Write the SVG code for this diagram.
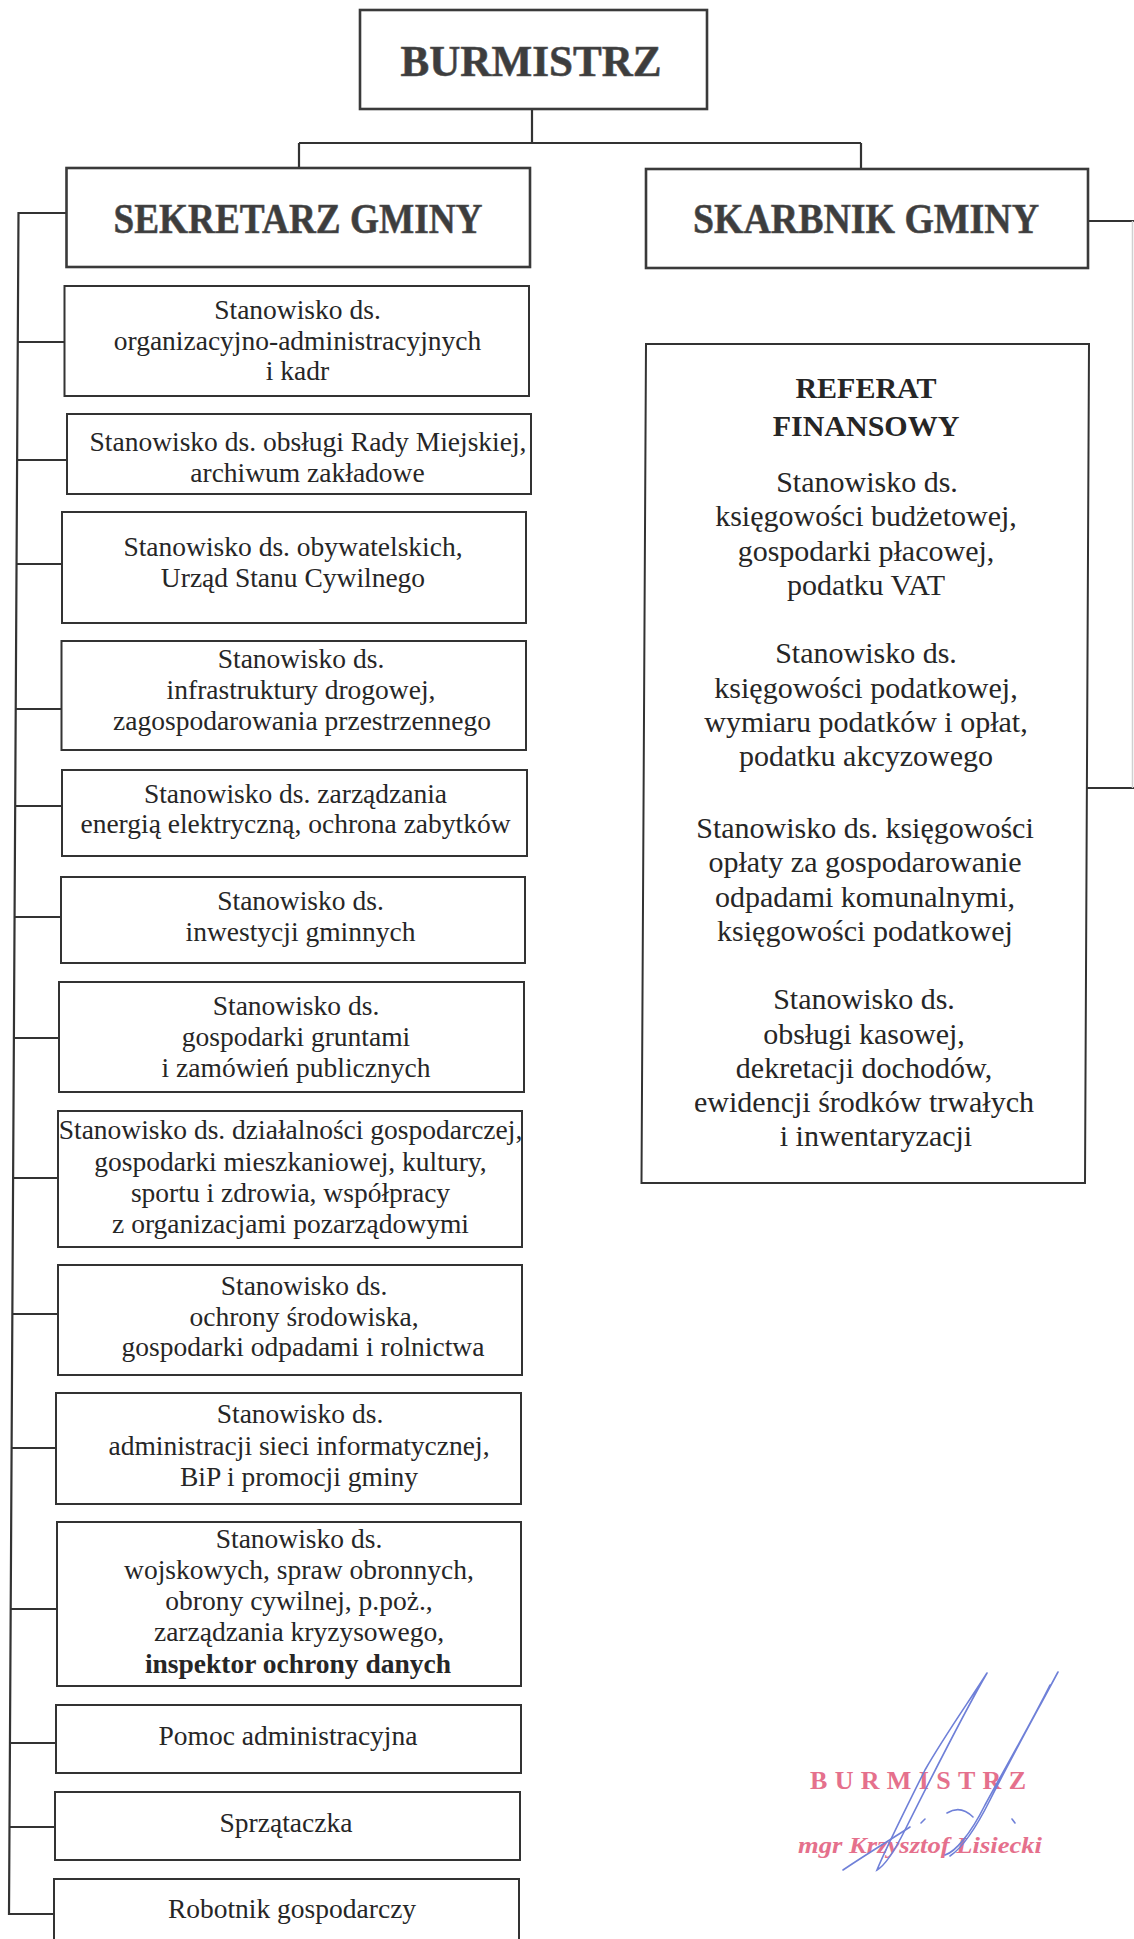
<svg xmlns="http://www.w3.org/2000/svg" width="1134" height="1939" viewBox="0 0 1134 1939">
<style>
.bg{fill:#ffffff}
.box{fill:#ffffff;stroke:#333333;stroke-width:2}
.tbox{fill:#ffffff;stroke:#3a3a3a;stroke-width:2.6}
.con{fill:none;stroke:#333333;stroke-width:2.2}
.t{font-family:"Liberation Serif","Times New Roman",serif;font-size:27.5px;fill:#262626;text-anchor:middle}
.r{font-family:"Liberation Serif","Times New Roman",serif;font-size:30px;fill:#262626;text-anchor:middle}
.b{font-weight:bold}
.title{font-family:"Liberation Serif","Times New Roman",serif;font-weight:bold;fill:#3d3d3d;text-anchor:middle;stroke:#555;stroke-width:0.6}
.stamp{font-family:"Liberation Serif","Times New Roman",serif;fill:#e5708c}
.sig{fill:none;stroke:#6f80d8;stroke-width:1.6;stroke-linecap:round}
</style>
<rect class="bg" x="0" y="0" width="1134" height="1939"/>

<g id="connectors">
  <path class="con" d="M532,109 V143 M299,143 H861 M299,143 V168 M861,143 V169"/>
  <path class="con" d="M66.5,213 H18.5 L9,1914 H54"/>
  <path class="con" d="M17.8,342 H64.5 M17.1,460 H67 M16.5,564 H62 M15.7,709 H61.5 M15.2,806 H62 M14.6,917 H61 M13.9,1038 H59 M13.1,1178 H58 M12.3,1314 H58 M11.6,1448 H56 M10.7,1609 H57 M9.9,1743 H56 M9.5,1827 H55"/>
  <path class="con" d="M1088,221 H1134 M1087,788 H1134"/>
  <path fill="none" stroke="#d0d0d0" stroke-width="1.5" d="M1132.5,221 V788"/>
</g>

<g id="burmistrz">
  <rect class="tbox" x="360" y="10" width="347" height="99"/>
  <text class="title" x="531" y="76" font-size="44" textLength="261" lengthAdjust="spacingAndGlyphs">BURMISTRZ</text>
</g>

<g id="sekretarz">
  <rect class="tbox" x="66.5" y="168" width="463.5" height="99"/>
  <text class="title" x="298" y="233" font-size="42" textLength="369" lengthAdjust="spacingAndGlyphs">SEKRETARZ GMINY</text>
</g>

<g id="skarbnik">
  <rect class="tbox" x="646" y="169" width="442" height="99"/>
  <text class="title" x="866" y="233" font-size="42" textLength="346" lengthAdjust="spacingAndGlyphs">SKARBNIK GMINY</text>
</g>

<g id="referat">
  <polygon class="box" points="646,344 1089,344 1085,1183 641.5,1183"/>
  <text class="r b" x="866" y="398" font-size="28.5">REFERAT</text>
  <text class="r b" x="866" y="436" font-size="28.5">FINANSOWY</text>
  <text class="r" x="867" y="492">Stanowisko ds.</text>
  <text class="r" x="866" y="526">księgowości budżetowej,</text>
  <text class="r" x="866" y="561">gospodarki płacowej,</text>
  <text class="r" x="866" y="595">podatku VAT</text>
  <text class="r" x="866" y="663">Stanowisko ds.</text>
  <text class="r" x="866" y="698">księgowości podatkowej,</text>
  <text class="r" x="866" y="732">wymiaru podatków i opłat,</text>
  <text class="r" x="866" y="766">podatku akcyzowego</text>
  <text class="r" x="865" y="838">Stanowisko ds. księgowości</text>
  <text class="r" x="865" y="872">opłaty za gospodarowanie</text>
  <text class="r" x="865" y="907">odpadami komunalnymi,</text>
  <text class="r" x="865" y="941">księgowości podatkowej</text>
  <text class="r" x="864" y="1009">Stanowisko ds.</text>
  <text class="r" x="864" y="1044">obsługi kasowej,</text>
  <text class="r" x="864" y="1078">dekretacji dochodów,</text>
  <text class="r" x="864" y="1112">ewidencji środków trwałych</text>
  <text class="r" x="876" y="1146">i inwentaryzacji</text>
</g>

<g id="s1">
  <rect class="box" x="64.5" y="286" width="464.5" height="110"/>
  <text class="t" x="297.5" y="319">Stanowisko ds.</text>
  <text class="t" x="297.5" y="350">organizacyjno-administracyjnych</text>
  <text class="t" x="297.5" y="380">i kadr</text>
</g>
<g id="s2">
  <rect class="box" x="67" y="414" width="464" height="80"/>
  <text class="t" x="308" y="451">Stanowisko ds. obsługi Rady Miejskiej,</text>
  <text class="t" x="307.5" y="482">archiwum zakładowe</text>
</g>
<g id="s3">
  <rect class="box" x="62" y="512" width="464" height="111"/>
  <text class="t" x="293" y="556">Stanowisko ds. obywatelskich,</text>
  <text class="t" x="293" y="587">Urząd Stanu Cywilnego</text>
</g>
<g id="s4">
  <rect class="box" x="61.5" y="641" width="464.5" height="109"/>
  <text class="t" x="301" y="668">Stanowisko ds.</text>
  <text class="t" x="301" y="699">infrastruktury drogowej,</text>
  <text class="t" x="302" y="730">zagospodarowania przestrzennego</text>
</g>
<g id="s5">
  <rect class="box" x="62" y="770" width="465" height="86"/>
  <text class="t" x="295.5" y="803">Stanowisko ds. zarządzania</text>
  <text class="t" x="295.5" y="833">energią elektryczną, ochrona zabytków</text>
</g>
<g id="s6">
  <rect class="box" x="61" y="877" width="464" height="86"/>
  <text class="t" x="300.5" y="910">Stanowisko ds.</text>
  <text class="t" x="300.5" y="941">inwestycji gminnych</text>
</g>
<g id="s7">
  <rect class="box" x="59" y="982" width="465" height="110"/>
  <text class="t" x="296" y="1015">Stanowisko ds.</text>
  <text class="t" x="296" y="1046">gospodarki gruntami</text>
  <text class="t" x="296" y="1077">i zamówień publicznych</text>
</g>
<g id="s8">
  <rect class="box" x="58" y="1111" width="464" height="136"/>
  <text class="t" x="290.5" y="1139">Stanowisko ds. działalności gospodarczej,</text>
  <text class="t" x="290.5" y="1171">gospodarki mieszkaniowej, kultury,</text>
  <text class="t" x="290.5" y="1202">sportu i zdrowia, współpracy</text>
  <text class="t" x="290.5" y="1233">z organizacjami pozarządowymi</text>
</g>
<g id="s9">
  <rect class="box" x="58" y="1265" width="464" height="110"/>
  <text class="t" x="304" y="1295">Stanowisko ds.</text>
  <text class="t" x="304" y="1326">ochrony środowiska,</text>
  <text class="t" x="303" y="1356">gospodarki odpadami i rolnictwa</text>
</g>
<g id="s10">
  <rect class="box" x="56" y="1393" width="465" height="111"/>
  <text class="t" x="300" y="1423">Stanowisko ds.</text>
  <text class="t" x="299" y="1455">administracji sieci informatycznej,</text>
  <text class="t" x="299" y="1486">BiP i promocji gminy</text>
</g>
<g id="s11">
  <rect class="box" x="57" y="1522" width="464" height="164"/>
  <text class="t" x="299" y="1548">Stanowisko ds.</text>
  <text class="t" x="299" y="1579">wojskowych, spraw obronnych,</text>
  <text class="t" x="299" y="1610">obrony cywilnej, p.poż.,</text>
  <text class="t" x="299" y="1641">zarządzania kryzysowego,</text>
  <text class="t b" x="298" y="1673">inspektor ochrony danych</text>
</g>
<g id="s12">
  <rect class="box" x="56" y="1705" width="465" height="68"/>
  <text class="t" x="288" y="1745">Pomoc administracyjna</text>
</g>
<g id="s13">
  <rect class="box" x="55" y="1792" width="465" height="68"/>
  <text class="t" x="286" y="1832">Sprzątaczka</text>
</g>
<g id="s14">
  <rect class="box" x="54" y="1879" width="465" height="80"/>
  <text class="t" x="292" y="1918">Robotnik gospodarczy</text>
</g>

<g id="stamp">
  <text class="stamp" x="810" y="1789" font-size="26" font-weight="bold" textLength="216" lengthAdjust="spacing">BURMISTRZ</text>
  <text class="stamp" x="798" y="1853" font-size="24" font-style="italic" font-weight="bold" textLength="244" lengthAdjust="spacingAndGlyphs">mgr Krzysztof Lisiecki</text>
  <path class="sig" d="M987,1673 C960,1720 930,1780 905,1830 C895,1850 884,1866 877,1870 C885,1850 905,1810 925,1770 C945,1735 970,1700 987,1673"/>
  <path class="sig" d="M1058,1672 C1035,1715 1010,1760 990,1800 C975,1830 962,1848 950,1856 M1050,1685 C1030,1725 1005,1768 985,1805 C970,1835 955,1852 945,1855"/>
  <path class="sig" d="M843,1870 C865,1855 890,1840 910,1827"/>
  <path class="sig" d="M947,1813 C955,1808 964,1808 973,1817 M921,1823 L925,1819 M1012,1819 L1015,1823"/>
</g>
</svg>
